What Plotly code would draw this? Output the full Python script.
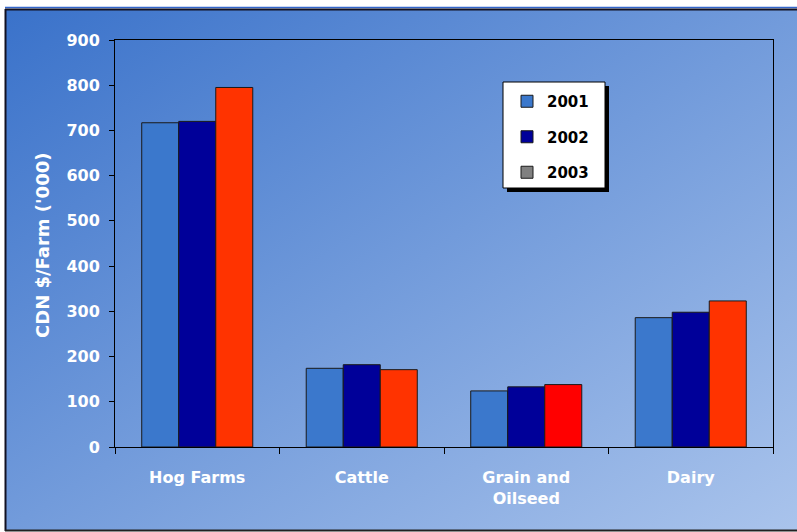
import base64
import plotly.graph_objects as go

# Farm cash receipts per farm, thousands of Canadian dollars
categories = ["Hog Farms", "Cattle", "Grain and<br>Oilseed", "Dairy"]
years = ["2001", "2002", "2003"]
values_2001 = [717, 174, 124, 286]
values_2002 = [720, 182, 133, 298]
values_2003 = [795, 171, 138, 323]
y_ticks = [0, 100, 200, 300, 400, 500, 600, 700, 800, 900]

W, H = 797, 532
ML, MR, MT, MB = 115, 24, 40, 85
PW, PH = W - ML - MR, H - MT - MB


def px(x):
    return (x - ML) / PW


def py(y):
    return 1 - (y - MT) / PH


FONT = "DejaVu Sans"
EDGE = dict(color="#1a1a1a", width=1)

fig = go.Figure()
fig.add_trace(go.Bar(x=categories, y=values_2001, name=years[0],
                     marker=dict(color="#3b78cc", line=EDGE),
                     offsetgroup="a", legendgroup="a"))
fig.add_trace(go.Bar(x=categories, y=values_2002, name=years[1],
                     marker=dict(color="#000099", line=EDGE),
                     offsetgroup="b", legendgroup="b"))
fig.add_trace(go.Bar(x=categories, y=values_2003, name=years[2],
                     marker=dict(color=["#ff3300", "#ff3300", "#ff0000", "#ff3300"],
                                 line=EDGE),
                     offsetgroup="c", legendgroup="c", showlegend=False))
# legend key for 2003 (grey swatch), shares the 2003 slot and draws no bar
fig.add_trace(go.Bar(x=categories[:1], y=[None], name=years[2],
                     marker=dict(color="#808080", line=EDGE),
                     offsetgroup="c", legendgroup="c"))

# diagonal blue gradient behind the whole chart
svg = ('<svg xmlns="http://www.w3.org/2000/svg" width="800" height="522" '
       'preserveAspectRatio="none"><defs><linearGradient id="g" x1="0" y1="0" '
       'x2="1" y2="1"><stop offset="0" stop-color="#3a72ca"/>'
       '<stop offset="1" stop-color="#aac4ec"/></linearGradient></defs>'
       '<rect width="100%" height="100%" fill="url(#g)"/></svg>')
bg_src = "data:image/svg+xml;base64," + base64.b64encode(svg.encode()).decode()

axis_font = dict(family=FONT, size=16, color="white", weight="bold")

shapes = [
    # outer frame
    dict(type="line", xref="paper", yref="paper", x0=px(5), x1=px(805),
         y0=py(7.5), y1=py(7.5), line=dict(color="#3366cc", width=1.5)),
    dict(type="line", xref="paper", yref="paper", x0=px(5), x1=px(805),
         y0=py(9.5), y1=py(9.5), line=dict(color="#111122", width=2)),
    dict(type="line", xref="paper", yref="paper", x0=px(5.5), x1=px(5.5),
         y0=py(9), y1=py(531), line=dict(color="#111122", width=2)),
    dict(type="line", xref="paper", yref="paper", x0=px(5), x1=px(805),
         y0=py(530.5), y1=py(530.5), line=dict(color="#222222", width=2)),
    # legend box with drop shadow
    dict(type="rect", xref="paper", yref="paper", layer="above",
         x0=px(507), x1=px(609), y0=py(86), y1=py(192),
         fillcolor="black", line=dict(width=0)),
    dict(type="rect", xref="paper", yref="paper", layer="above",
         x0=px(503), x1=px(605), y0=py(82), y1=py(188),
         fillcolor="white", line=dict(color="black", width=1)),
]

fig.update_layout(
    width=W, height=H,
    margin=dict(l=ML, r=MR, t=MT, b=MB, pad=0),
    paper_bgcolor="white",
    plot_bgcolor="white",
    barmode="group",
    bargap=0.325,
    bargroupgap=0,
    showlegend=True,
    legend=dict(x=px(507), y=py(85), xanchor="left", yanchor="top",
                bgcolor="rgba(0,0,0,0)", borderwidth=0,
                font=dict(family=FONT, size=15, color="black", weight="bold"),
                tracegroupgap=13),
    xaxis=dict(type="category", tickson="boundaries", ticks="outside",
               ticklen=6, tickcolor="black", showline=True, linecolor="black",
               linewidth=1, mirror=True, showgrid=False, tickfont=axis_font,
               ticklabelstandoff=16),
    yaxis=dict(range=[0, 900], tickvals=y_ticks, ticks="outside", ticklen=5,
               tickcolor="black", showline=True, linecolor="black",
               linewidth=1, mirror=True, showgrid=False, zeroline=False,
               tickfont=axis_font, ticklabelstandoff=6),
    images=[dict(source=bg_src, xref="paper", yref="paper", x=px(5), y=py(9),
                 sizex=(W + 3 - 5) / PW, sizey=(531 - 9) / PH, xanchor="left",
                 yanchor="top", sizing="stretch", layer="below")],
    shapes=shapes,
    annotations=[dict(text="CDN $/Farm ('000)", textangle=-90, showarrow=False,
                      xref="paper", yref="paper", x=px(42), y=py(246),
                      xanchor="center", yanchor="middle",
                      font=dict(family=FONT, size=18, color="white",
                                weight="bold"))],
)

fig.write_html("out.html")
